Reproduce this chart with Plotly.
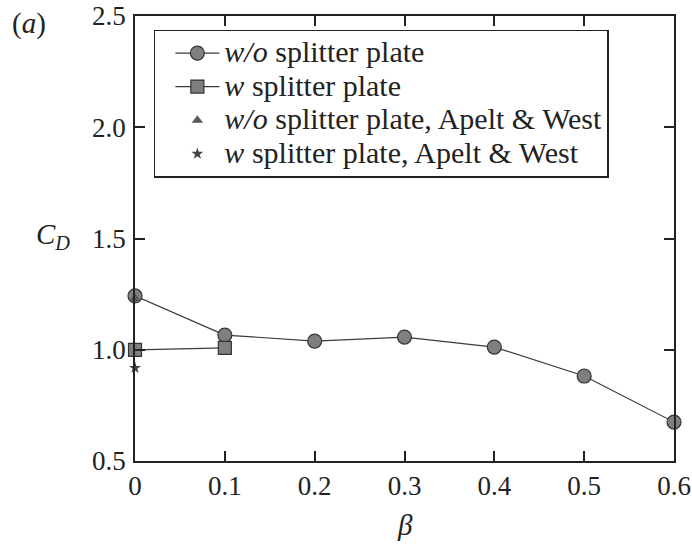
import plotly.graph_objects as go

beta_wo = [0, 0.1, 0.2, 0.3, 0.4, 0.5, 0.6]
cd_wo = [1.242, 1.066, 1.039, 1.057, 1.012, 0.882, 0.675]
beta_w = [0, 0.1]
cd_w = [0.999, 1.008]
beta_aw_wo = [0]
cd_aw_wo = [1.23]
beta_aw_w = [0]
cd_aw_w = [0.918]

x_ticks = [0, 0.1, 0.2, 0.3, 0.4, 0.5, 0.6]
x_tick_labels = ["0", "0.1", "0.2", "0.3", "0.4", "0.5", "0.6"]
y_ticks = [0.5, 1.0, 1.5, 2.0, 2.5]
y_tick_labels = ["0.5", "1.0", "1.5", "2.0", "2.5"]

FONT = "Liberation Serif, Times New Roman, serif"
LINE = "#3a3a3a"
FILL = "#7f7f7f"


def leg(txt):
    return "<span style='font-size:30px'>" + txt + "</span>"


fig = go.Figure()
fig.add_trace(go.Scatter(
    x=beta_wo, y=cd_wo, mode="lines+markers",
    name=leg("<i>w/o</i> splitter plate"),
    line=dict(color=LINE, width=1.2),
    marker=dict(symbol="circle", size=14, color=FILL, line=dict(color="#333333", width=1.2)),
    cliponaxis=False,
))
fig.add_trace(go.Scatter(
    x=beta_w, y=cd_w, mode="lines+markers",
    name=leg("<i>w</i> splitter plate"),
    line=dict(color=LINE, width=1.2),
    marker=dict(symbol="square", size=13, color=FILL, line=dict(color="#333333", width=1.2)),
    cliponaxis=False,
))
fig.add_trace(go.Scatter(
    x=beta_aw_wo, y=cd_aw_wo, mode="markers",
    name=leg("<i>w/o</i> splitter plate, Apelt &amp; West"),
    marker=dict(symbol="triangle-up", size=9, color="#5a5a5a", line=dict(color="#444444", width=0.5)),
    cliponaxis=False,
))
fig.add_trace(go.Scatter(
    x=beta_aw_w, y=cd_aw_w, mode="markers",
    name=leg("<i>w</i> splitter plate, Apelt &amp; West"),
    marker=dict(symbol="star", size=9, color="#444444", line=dict(width=0)),
    cliponaxis=False,
))

axis_common = dict(
    showline=True, linecolor="#222222", linewidth=1.5, mirror="allticks",
    ticks="inside", ticklen=10, tickwidth=1.5, tickcolor="#222222",
    showgrid=False, zeroline=False, automargin=False,
    tickfont=dict(family=FONT, size=27, color="#222222"),
    ticklabeloverflow="allow",
)

fig.update_xaxes(range=[0, 0.6], tickvals=x_ticks, ticktext=x_tick_labels, ticklabelstandoff=0, **axis_common)
fig.update_yaxes(range=[0.5, 2.5], tickvals=y_ticks, ticktext=y_tick_labels, ticklabelstandoff=2, **axis_common)

fig.update_layout(
    width=692, height=549,
    margin=dict(l=135, r=18, t=16, b=88, autoexpand=False),
    plot_bgcolor="white", paper_bgcolor="white",
    font=dict(family=FONT, size=24, color="#222222"),
    showlegend=True,
    legend=dict(
        x=0.035, y=0.969, xanchor="left", yanchor="top",
        bgcolor="white", bordercolor="#222222", borderwidth=1.5,
        font=dict(family=FONT, size=23.5, color="#222222"),
        tracegroupgap=0, itemsizing="trace",
        indentation=15, itemwidth=44,
    ),
    annotations=[
        dict(text="<i>C</i><sub><i>D</i></sub>", x=-0.117, y=0.505, xref="paper", yref="paper",
             xanchor="right", yanchor="middle", showarrow=False,
             font=dict(family=FONT, size=29, color="#222222")),
        dict(text="<i>β</i>", x=0.5, y=-0.144, xref="paper", yref="paper",
             xanchor="center", yanchor="middle", showarrow=False,
             font=dict(family=FONT, size=29, color="#222222")),
        dict(text="(<i>a</i>)", x=-0.232, y=0.984, xref="paper", yref="paper",
             xanchor="left", yanchor="middle", showarrow=False,
             font=dict(family=FONT, size=29, color="#222222")),
    ],
)

fig.write_html("out.html", config={"displayModeBar": False},
               post_script="document.body.style.margin='0';")
